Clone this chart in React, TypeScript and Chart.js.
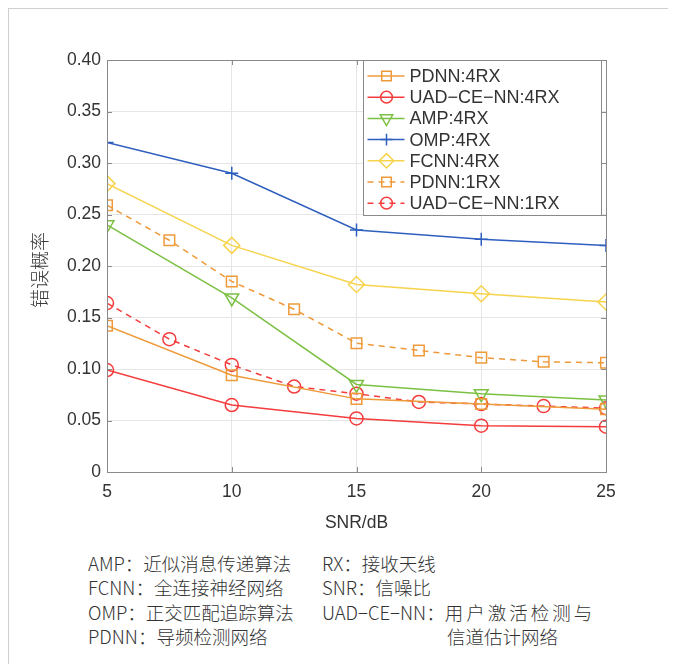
import React, { useEffect, useRef } from "react";
import { Chart, registerables } from "chart.js";
import { drawPoint } from "chart.js/helpers";

Chart.register(...registerables);

const xSolid = [5, 10, 15, 20, 25];
const xDense = [5, 7.5, 10, 12.5, 15, 17.5, 20, 22.5, 25];

const pdnn4 = [0.142, 0.094, 0.071, 0.066, 0.061];
const uad4 = [0.099, 0.065, 0.052, 0.045, 0.044];
const amp4 = [0.240, 0.169, 0.085, 0.076, 0.070];
const omp4 = [0.320, 0.290, 0.235, 0.226, 0.220];
const fcnn4 = [0.280, 0.220, 0.182, 0.173, 0.165];
const pdnn1 = [0.259, 0.225, 0.185, 0.158, 0.125, 0.118, 0.111, 0.107, 0.106];
const uad1 = [0.164, 0.129, 0.104, 0.083, 0.076, 0.068, 0.066, 0.064, 0.062];

const xTicks = [5, 10, 15, 20, 25];
const yTicks = [0, 0.05, 0.1, 0.15, 0.2, 0.25, 0.3, 0.35, 0.4];

const ORANGE = "#EE9A3A";
const RED = "#F43C3C";
const GREEN = "#7CC043";
const BLUE = "#2F5FBE";
const YELLOW = "#F7D34C";

const FONT = '"Liberation Sans", "Noto Sans CJK SC", sans-serif';
const CJK = '"Noto Sans CJK SC", "Liberation Sans", sans-serif';
const TEXT = "#333333";
const AXIS = "#8a8a8a";

const zip = (xs: number[], ys: number[]) => xs.map((x, i) => ({ x, y: ys[i] }));

const mk = (label: string, xs: number[], ys: number[], color: string, style: string, radius: number, dashed: boolean, rotation = 0) => ({
  label,
  data: zip(xs, ys),
  borderColor: color,
  backgroundColor: "rgba(0,0,0,0)",
  borderWidth: 1.5,
  borderDash: dashed ? [6, 5] : [],
  pointStyle: style,
  pointRadius: radius,
  pointRotation: rotation,
  pointBorderColor: color,
  pointBackgroundColor: "rgba(0,0,0,0)",
  pointBorderWidth: 1.5,
  tension: 0,
  fill: false,
});

const boxPlugin = {
  id: "matlabBox",
  afterDatasetsDraw(chart: any) {
    const { ctx, chartArea: a, scales } = chart;
    ctx.save();
    // box
    ctx.strokeStyle = AXIS;
    ctx.lineWidth = 1;
    ctx.setLineDash([]);
    ctx.strokeRect(a.left + 0.5, a.top + 0.5, a.right - a.left, a.bottom - a.top);
    // inward ticks
    const tl = 5;
    ctx.beginPath();
    for (const v of yTicks) {
      const y = Math.round(scales.y.getPixelForValue(v)) + 0.5;
      ctx.moveTo(a.left, y); ctx.lineTo(a.left + tl, y);
      ctx.moveTo(a.right, y); ctx.lineTo(a.right - tl, y);
    }
    for (const v of xTicks) {
      const x = Math.round(scales.x.getPixelForValue(v)) + 0.5;
      ctx.moveTo(x, a.bottom); ctx.lineTo(x, a.bottom - tl);
      ctx.moveTo(x, a.top); ctx.lineTo(x, a.top + tl);
    }
    ctx.stroke();

    // legend
    const bx = a.left + 256.5, by = a.top + 0.5, bw = 238, bh = 155;
    ctx.fillStyle = "#ffffff";
    ctx.fillRect(bx, by, bw, bh);
    ctx.strokeStyle = "#8a8a8a";
    ctx.strokeRect(bx, by, bw, bh);
    ctx.font = "18px " + FONT;
    ctx.textBaseline = "middle";
    ctx.textAlign = "left";
    chart.data.datasets.forEach((ds: any, i: number) => {
      const cy = a.top + 16 + i * 21.2;
      ctx.strokeStyle = ds.borderColor;
      ctx.lineWidth = 1.5;
      ctx.setLineDash(ds.borderDash || []);
      ctx.beginPath();
      ctx.moveTo(bx + 4, cy);
      ctx.lineTo(bx + 41, cy);
      ctx.stroke();
      ctx.setLineDash([]);
      ctx.fillStyle = "rgba(0,0,0,0)";
      drawPoint(ctx, { pointStyle: ds.pointStyle, radius: ds.pointRadius * 0.9, rotation: ds.pointRotation, borderWidth: 1.5 }, bx + 23, cy);
      ctx.fillStyle = TEXT;
      ctx.fillText(ds.label, bx + 46, cy + 1);
    });

    // axis titles
    ctx.fillStyle = TEXT;
    ctx.font = "17.5px " + FONT;
    ctx.textAlign = "center";
    ctx.textBaseline = "middle";
    ctx.fillText("SNR/dB", (a.left + a.right) / 2, a.bottom + 51);
    ctx.save();
    ctx.translate(a.left - 67, a.top + 210);
    ctx.rotate(-Math.PI / 2);
    ctx.fillStyle = "#3a3a3a";
    ctx.font = "300 19px " + CJK;
    ctx.fillText("错误概率", 0, 0);
    ctx.restore();
    ctx.restore();
  },
};

function ChartCanvas() {
  const ref = useRef<HTMLCanvasElement | null>(null);
  useEffect(() => {
    if (!ref.current) return;
    const chart = new Chart(ref.current, {
      type: "line",
      data: {
        datasets: [
          mk("PDNN:4RX", xSolid, pdnn4, ORANGE, "rect", 7.5, false),
          mk("UAD−CE−NN:4RX", xSolid, uad4, RED, "circle", 6.5, false),
          mk("AMP:4RX", xSolid, amp4, GREEN, "triangle", 8, false, 180),
          mk("OMP:4RX", xSolid, omp4, BLUE, "cross", 6.5, false),
          mk("FCNN:4RX", xSolid, fcnn4, YELLOW, "rectRot", 8, false),
          mk("PDNN:1RX", xDense, pdnn1, ORANGE, "rect", 7.5, true),
          mk("UAD−CE−NN:1RX", xDense, uad1, RED, "circle", 6.5, true),
        ] as any,
      },
      options: {
        animation: false,
        responsive: false,
        devicePixelRatio: 1,
        layout: { padding: { left: 0, right: 63, top: 51, bottom: 17 } },
        plugins: { legend: { display: false }, tooltip: { enabled: false } },
        scales: {
          x: {
            type: "linear",
            min: 5,
            max: 25,
            afterFit: (s: any) => { s.height = 60; },
            afterBuildTicks: (s: any) => { s.ticks = xTicks.map((v) => ({ value: v })); },
            ticks: { padding: 10, color: TEXT, font: { family: FONT, size: 17.5 }, maxRotation: 0, callback: (v: any) => String(v) },
            grid: { color: "#e6e6e6", drawTicks: false },
            border: { display: false },
          },
          y: {
            type: "linear",
            min: 0,
            max: 0.4,
            afterFit: (s: any) => { s.width = 98; },
            afterBuildTicks: (s: any) => { s.ticks = yTicks.map((v) => ({ value: v })); },
            ticks: { padding: 6, color: TEXT, font: { family: FONT, size: 17.5 }, callback: (v: any) => (Number(v) === 0 ? "0" : Number(v).toFixed(2)) },
            grid: { color: "#e6e6e6", drawTicks: false },
            border: { display: false },
          },
        },
      } as any,
      plugins: [boxPlugin],
    });
    return () => chart.destroy();
  }, []);
  return <canvas ref={ref} width={660} height={540} style={{ position: "absolute", left: 0, top: 0, width: 660, height: 540 }} />;
}

const noteStyle: React.CSSProperties = {
  position: "absolute",
  fontFamily: CJK,
  fontSize: 18.5,
  color: TEXT,
  lineHeight: "24.3px",
  whiteSpace: "nowrap",
  fontWeight: 300,
};

export default function App() {
  return (
    <div style={{ position: "relative", width: 659, height: 670, border: "1px solid #cfcfcf", borderBottom: "none", background: "#fff", overflow: "hidden" }}>
      <ChartCanvas />
      <div style={{ ...noteStyle, left: 79, top: 542 }}>
        <div>AMP：近似消息传递算法</div>
        <div>FCNN：全连接神经网络</div>
        <div>OMP：正交匹配追踪算法</div>
        <div>PDNN：导频检测网络</div>
      </div>
      <div style={{ ...noteStyle, left: 313, top: 542 }}>
        <div>RX：接收天线</div>
        <div>SNR：信噪比</div>
        <div>UAD−CE−NN：<span style={{ letterSpacing: 3 }}>用户激活检测与</span></div>
        <div style={{ paddingLeft: 125 }}>信道估计网络</div>
      </div>
    </div>
  );
}
